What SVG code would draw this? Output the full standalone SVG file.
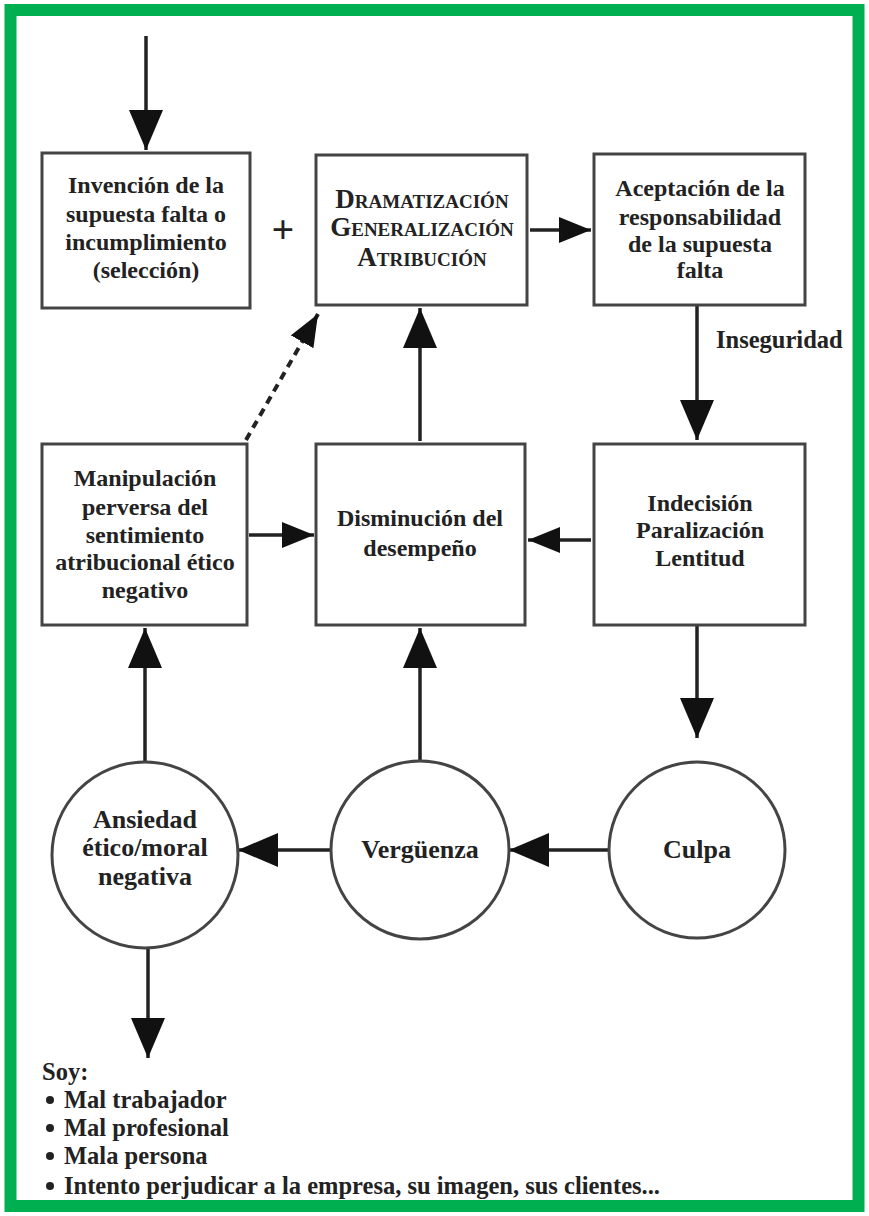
<svg xmlns="http://www.w3.org/2000/svg" width="869" height="1216" viewBox="0 0 869 1216" font-family="'Liberation Serif', 'Times New Roman', serif">
<style>
.box{fill:#fff;stroke:#444;stroke-width:3}
.t{font-family:'Liberation Serif','Times New Roman',serif;font-weight:bold;font-size:24px;fill:#222;text-anchor:middle}
.sc{font-variant:small-caps;font-size:27px}
.ci{font-size:26px}
.l{font-family:'Liberation Serif','Times New Roman',serif;font-weight:bold;font-size:24.5px;fill:#222}
.c{stroke:#222;stroke-width:3.5;fill:none}
.d{stroke:#222;stroke-width:4;fill:none;stroke-dasharray:8 6}
</style>
<defs>
<marker id="big" markerUnits="userSpaceOnUse" markerWidth="40" markerHeight="34" refX="40" refY="17" orient="auto"><path d="M0,0 L40,17 L0,34 z" fill="#111"/></marker>
<marker id="mid" markerUnits="userSpaceOnUse" markerWidth="32" markerHeight="26" refX="32" refY="13" orient="auto"><path d="M0,0 L32,13 L0,26 z" fill="#111"/></marker>
</defs>
<rect x="10.5" y="10" width="848" height="1196" fill="#fff" stroke="#00b050" stroke-width="12"/>

<g id="connectors">
<line class="c" x1="146" y1="36" x2="146" y2="150" marker-end="url(#big)"/>
<line class="c" x1="530" y1="230" x2="591" y2="230" marker-end="url(#mid)"/>
<line class="c" x1="697" y1="306" x2="697" y2="440" marker-end="url(#big)"/>
<line class="c" x1="591" y1="540" x2="528" y2="540" marker-end="url(#mid)"/>
<line class="c" x1="249" y1="535" x2="314" y2="535" marker-end="url(#mid)"/>
<line class="c" x1="420" y1="441" x2="420" y2="308" marker-end="url(#big)"/>
<line class="d" x1="246" y1="440" x2="318" y2="314" marker-end="url(#mid)"/>
<line class="c" x1="697" y1="626" x2="697" y2="738" marker-end="url(#big)"/>
<line class="c" x1="420" y1="760" x2="420" y2="628" marker-end="url(#big)"/>
<line class="c" x1="145" y1="762" x2="145" y2="628" marker-end="url(#big)"/>
<line class="c" x1="609" y1="850" x2="509" y2="850" marker-end="url(#big)"/>
<line class="c" x1="332" y1="850" x2="238" y2="850" marker-end="url(#big)"/>
<line class="c" x1="148" y1="948" x2="148" y2="1058" marker-end="url(#big)"/>
</g>

<g id="n1">
<rect class="box" x="42" y="153" width="208" height="155"/>
<text class="t" x="146" y="193">Invención de la</text>
<text class="t" x="146" y="222">supuesta falta o</text>
<text class="t" x="146" y="250">incumplimiento</text>
<text class="t" x="146" y="278">(selección)</text>
</g>
<text id="plus" class="t" x="283" y="243" style="font-size:40px">+</text>

<g id="n2">
<rect class="box" x="316" y="155" width="211" height="150"/>
<text class="t sc" x="422" y="208">Dramatización</text>
<text class="t sc" x="422" y="236">Generalización</text>
<text class="t sc" x="422" y="266">Atribución</text>
</g>

<g id="n3">
<rect class="box" x="594" y="154" width="211" height="151"/>
<text class="t" x="700" y="196">Aceptación de la</text>
<text class="t" x="700" y="225">responsabilidad</text>
<text class="t" x="700" y="252">de la supuesta</text>
<text class="t" x="700" y="278">falta</text>
</g>
<text id="inseg" class="l" x="716" y="348">Inseguridad</text>

<g id="n4">
<rect class="box" x="42" y="444" width="205" height="181"/>
<text class="t" x="145" y="486">Manipulación</text>
<text class="t" x="145" y="515">perversa del</text>
<text class="t" x="145" y="543">sentimiento</text>
<text class="t" x="145" y="570">atribucional ético</text>
<text class="t" x="145" y="598">negativo</text>
</g>

<g id="n5">
<rect class="box" x="316" y="444" width="209" height="181"/>
<text class="t" x="420" y="526">Disminución del</text>
<text class="t" x="420" y="556">desempeño</text>
</g>

<g id="n6">
<rect class="box" x="594" y="444" width="211" height="181"/>
<text class="t" x="700" y="511">Indecisión</text>
<text class="t" x="700" y="538">Paralización</text>
<text class="t" x="700" y="566">Lentitud</text>
</g>

<g id="n7">
<circle class="box" cx="145" cy="855" r="93"/>
<text class="t ci" x="145" y="828">Ansiedad</text>
<text class="t ci" x="145" y="856">ético/moral</text>
<text class="t ci" x="145" y="885">negativa</text>
</g>

<g id="n8">
<circle class="box" cx="420" cy="850" r="89"/>
<text class="t ci" x="420" y="858">Vergüenza</text>
</g>

<g id="n9">
<circle class="box" cx="697" cy="850" r="88"/>
<text class="t ci" x="697" y="858">Culpa</text>
</g>

<g id="list">
<text class="l" x="42" y="1080">Soy:</text>
<circle cx="50" cy="1100" r="4" fill="#222"/>
<text class="l" x="64" y="1108">Mal trabajador</text>
<circle cx="50" cy="1128" r="4" fill="#222"/>
<text class="l" x="64" y="1136">Mal profesional</text>
<circle cx="50" cy="1156" r="4" fill="#222"/>
<text class="l" x="64" y="1164">Mala persona</text>
<circle cx="50" cy="1186" r="4" fill="#222"/>
<text class="l" x="64" y="1194">Intento perjudicar a la empresa, su imagen, sus clientes...</text>
</g>
</svg>
